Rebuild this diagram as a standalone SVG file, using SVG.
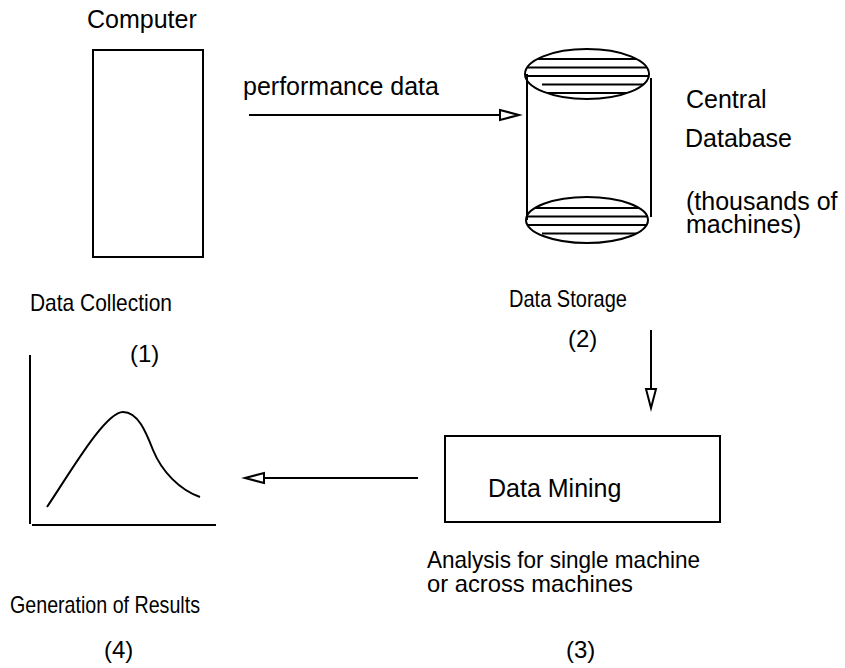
<svg xmlns="http://www.w3.org/2000/svg" width="845" height="668" viewBox="0 0 845 668">
<style>
text{font-family:"Liberation Sans",Arial,sans-serif;font-size:24px;fill:#000}
.b{font-size:25px}
.s{fill:none;stroke:#000;stroke-width:2}
.h{stroke:#000;stroke-width:2}
</style>
<defs>
<marker id="ah" markerUnits="userSpaceOnUse" markerWidth="24" markerHeight="14" refX="20" refY="6" orient="auto" overflow="visible">
<path d="M1,1 L20,6 L1,11 Z" fill="#fff" stroke="#000" stroke-width="2"/>
</marker>
<clipPath id="ct"><ellipse cx="587" cy="74" rx="62" ry="25"/></clipPath>
<clipPath id="cb"><ellipse cx="587" cy="220" rx="61" ry="23"/></clipPath>
</defs>
<rect width="845" height="668" fill="#fff"/>
<g id="computer">
<text class="b" x="87" y="28">Computer</text>
<rect class="s" x="93" y="50" width="110" height="207"/>
<text x="30" y="311" textLength="142" lengthAdjust="spacingAndGlyphs">Data Collection</text>
<text x="130" y="362">(1)</text>
</g>
<g id="database">
<g clip-path="url(#ct)">
<line class="h" x1="520" y1="59" x2="660" y2="59"/>
<line class="h" x1="520" y1="67.5" x2="660" y2="67.5"/>
<line class="h" x1="520" y1="76" x2="660" y2="76"/>
<line class="h" x1="542" y1="84.5" x2="660" y2="84.5"/>
<line class="h" x1="520" y1="93" x2="660" y2="93"/>
</g>
<ellipse class="s" cx="587" cy="74" rx="62" ry="25"/>
<line class="h" x1="527" y1="74" x2="527" y2="220"/>
<line class="h" x1="651" y1="78" x2="651" y2="217"/>
<g clip-path="url(#cb)">
<line class="h" x1="520" y1="208" x2="660" y2="208"/>
<line class="h" x1="520" y1="216.5" x2="660" y2="216.5"/>
<line class="h" x1="520" y1="225" x2="660" y2="225"/>
<line class="h" x1="542" y1="233.5" x2="660" y2="233.5"/>
</g>
<ellipse class="s" cx="587" cy="220" rx="61" ry="23"/>
<text class="b" x="686" y="108">Central</text>
<text class="b" x="685" y="147">Database</text>
<text class="b" x="686" y="210">(thousands of</text>
<text class="b" x="686" y="233">machines)</text>
<text x="509" y="307" textLength="118" lengthAdjust="spacingAndGlyphs">Data Storage</text>
<text x="568" y="347">(2)</text>
</g>
<g id="mining">
<rect class="s" x="445" y="436" width="275" height="86"/>
<text class="b" x="488" y="497">Data Mining</text>
<text x="427" y="568" textLength="273" lengthAdjust="spacingAndGlyphs">Analysis for single machine</text>
<text x="427" y="592" textLength="206" lengthAdjust="spacingAndGlyphs">or across machines</text>
<text x="566" y="658">(3)</text>
</g>
<g id="results">
<line class="h" x1="30" y1="355" x2="30" y2="524"/>
<line class="h" x1="32" y1="525" x2="216" y2="525"/>
<path class="s" d="M47,507 C70,473 105,412 123,412 C138,412 146,432 153,450 C162,472 180,490 200,497"/>
<text x="10" y="613" textLength="190" lengthAdjust="spacingAndGlyphs">Generation of Results</text>
<text x="104" y="658">(4)</text>
</g>
<g id="connectors">
<line class="h" x1="249" y1="115" x2="519" y2="115" marker-end="url(#ah)"/>
<line class="h" x1="651" y1="330" x2="651" y2="408" marker-end="url(#ah)"/>
<line class="h" x1="418" y1="478" x2="245" y2="478" marker-end="url(#ah)"/>
<text class="b" x="243" y="95">performance data</text>
</g>
</svg>
